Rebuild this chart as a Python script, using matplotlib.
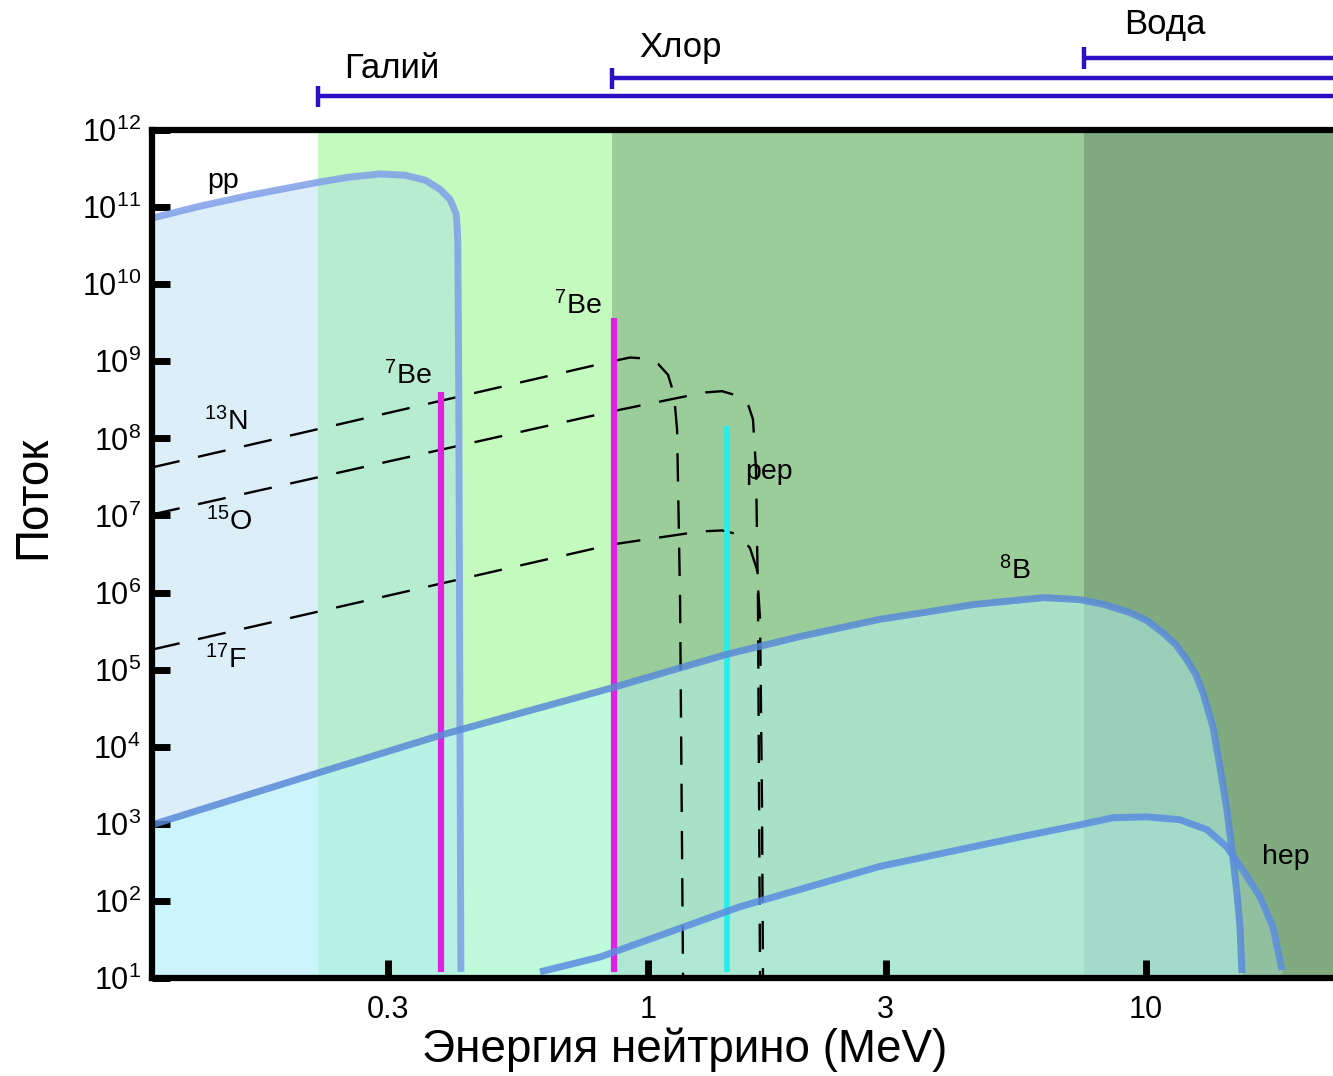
import matplotlib
matplotlib.use('Agg')
import matplotlib.pyplot as plt
import matplotlib.transforms as mtransforms
from matplotlib.ticker import NullLocator

plt.rcParams['font.family'] = ['Liberation Sans', 'DejaVu Sans']
plt.rcParams['mathtext.fontset'] = 'custom'
plt.rcParams['mathtext.rm'] = 'Liberation Sans'
plt.rcParams['mathtext.default'] = 'regular'

# пороги детекторов (MeV)
ga_thr = 0.217
cl_thr = 0.846
water_thr = 7.5

# спектры
pp_E = [0.1009, 0.126, 0.159, 0.217, 0.252, 0.290, 0.325, 0.357, 0.382, 0.400,
        0.406, 0.412, 0.4135, 0.415, 0.417, 0.419, 0.421]
pp_flux = [7.2e10, 1.03e11, 1.43e11, 2.1e11, 2.46e11, 2.7e11, 2.6e11, 2.24e11,
           1.71e11, 1.27e11, 1.03e11, 8.1e10, 6.0e10, 3.8e10, 3.2e8, 4.1e4, 12]

b8_E = [0.1009, 0.2205, 0.386, 0.846, 1.434, 2.02, 2.92, 3.68, 4.51, 6.24, 7.37,
        8.27, 9.29, 10.05, 10.82, 11.49, 12.08, 12.60, 13.02, 13.63, 14.08, 14.54,
        14.89, 15.23, 15.45, 15.59]
b8_flux = [9.7e2, 4.7e3, 1.43e4, 5.8e4, 1.57e5, 2.69e5, 4.5e5, 5.66e5, 7.0e5, 8.6e5,
           8.1e5, 6.98e5, 5.5e5, 4.33e5, 3.0e5, 2.11e5, 1.35e5, 8.6e4, 5.0e4, 1.82e4,
           5.5e3, 1.52e3, 4.6e2, 1.27e2, 46, 11.6]

hep_E = [0.607, 0.801, 1.53, 2.92, 5.61, 7.37, 8.59, 10.05, 11.70, 13.26, 14.54,
         15.66, 16.94, 17.99, 18.76]
hep_flux = [12, 18.7, 84, 2.8e2, 6.8e2, 9.7e2, 1.2e3, 1.23e3, 1.13e3, 8.4e2,
            5.0e2, 2.5e2, 1.13e2, 46, 12.7]

n13_E = [0.1009, 0.846, 0.920, 0.986, 1.047, 1.097, 1.128, 1.144, 1.160, 1.176]
n13_flux = [4.2e7, 1.0e9, 1.12e9, 1.09e9, 9.3e8, 6.7e8, 3.7e8, 1.3e8, 8.1e5, 10]

o15_E = [0.1009, 0.846, 1.160, 1.302, 1.408, 1.509, 1.588, 1.625, 1.648, 1.663, 1.679]
o15_flux = [1.03e7, 2.24e8, 3.4e8, 3.95e8, 4.1e8, 3.6e8, 2.77e8, 1.77e8, 4.0e7,
            8.1e5, 10]

f17_E = [0.1009, 0.846, 1.272, 1.408, 1.516, 1.602, 1.655, 1.679, 1.694, 1.702]
f17_flux = [1.82e5, 4.2e6, 6.2e6, 6.4e6, 5.7e6, 3.8e6, 2.0e6, 4.5e5, 2.0e3, 10]

# линии
be7_E = [0.384, 0.855]
be7_flux = [4.0e8, 3.7e9]
pep_E = 1.441
pep_flux = 1.45e8

fig = plt.figure(figsize=(13.33, 10.76), dpi=100)
ax = fig.add_axes([0.114, 0.0911, 0.886, 0.788])
ax.set_xscale('log')
ax.set_yscale('log')
ax.set_xlim(0.1009, 23.75)
ax.set_ylim(10, 1e12)

# области чувствительности
ax.axvspan(ga_thr, cl_thr, color='#c4fabd', lw=0, zorder=0)
ax.axvspan(cl_thr, water_thr, color='#9bcd9b', lw=0, zorder=0)
ax.axvspan(water_thr, 30, color='#80ab80', lw=0, zorder=0)

# заливки под спектрами
ax.fill_between(pp_E, pp_flux, 10, color='#a5d8f2', alpha=0.39, lw=0, zorder=1)
ax.fill_between(b8_E, b8_flux, 10, color='#b9fbff', alpha=0.45, lw=0, zorder=1)
ax.fill_between(hep_E, hep_flux, 10, color='#c0ffff', alpha=0.25, lw=0, zorder=1)

# CNO пунктиром
for E, F in [(n13_E, n13_flux), (o15_E, o15_flux), (f17_E, f17_flux)]:
    ax.plot(E, F, color='black', lw=1.7, ls=(0, (12, 8)), zorder=2)

# линии 7Be и pep
ax.vlines(be7_E, 12, be7_flux, color='#e020e0', lw=4.5, zorder=3)
ax.vlines(pep_E, 12, pep_flux, color='#22eeee', lw=4, zorder=3)

# непрерывные спектры
ax.plot(pp_E, pp_flux, color='#7f9fe8', lw=5, alpha=0.85, zorder=4,
        solid_capstyle='butt', solid_joinstyle='round')
ax.plot(b8_E, b8_flux, color='#5a8ad8', lw=5, alpha=0.85, zorder=4,
        solid_capstyle='butt', solid_joinstyle='round')
ax.plot(hep_E, hep_flux, color='#5b8de0', lw=5, alpha=0.85, zorder=4,
        solid_capstyle='butt', solid_joinstyle='round')

# подписи
fs = 20.5
ax.text(0.140, 2.2e11, 'pp', fontsize=fs, ha='center', va='center')
ax.text(0.330, 6.6e8, r'$^{7}$Be', fontsize=fs, ha='center', va='center')
ax.text(0.723, 5.3e9, r'$^{7}$Be', fontsize=fs, ha='center', va='center')
ax.text(0.142, 1.66e8, r'$^{13}$N', fontsize=fs, ha='center', va='center')
ax.text(0.144, 8.3e6, r'$^{15}$O', fontsize=fs, ha='center', va='center')
ax.text(0.142, 1.35e5, r'$^{17}$F', fontsize=fs, ha='center', va='center')
ax.text(1.75, 3.7e7, 'pep', fontsize=fs, ha='center', va='center')
ax.text(5.46, 1.93e6, r'$^{8}$B', fontsize=fs, ha='center', va='center')
ax.text(19.1, 3.7e2, 'hep', fontsize=fs, ha='center', va='center')

# полосы экспериментов над графиком
trans = mtransforms.blended_transform_factory(ax.transData, ax.transAxes)
bar_col = '#2c10c4'
for thr, yb in [(ga_thr, 1.040), (cl_thr, 1.061), (water_thr, 1.085)]:
    ax.plot([thr, 40], [yb, yb], color=bar_col, lw=3.2, transform=trans,
            clip_on=False, solid_capstyle='butt')
    ax.plot([thr, thr], [yb - 0.0125, yb + 0.0125], color=bar_col, lw=3.2,
            transform=trans, clip_on=False, solid_capstyle='butt')
ax.text(0.306, 1.073, 'Галий', fontsize=25, ha='center', va='center', transform=trans)
ax.text(1.16, 1.097, 'Хлор', fontsize=25, ha='center', va='center', transform=trans)
ax.text(10.9, 1.124, 'Вода', fontsize=25, ha='center', va='center', transform=trans)

# оси
for s in ['left', 'top', 'bottom']:
    ax.spines[s].set_linewidth(4.5)
    ax.spines[s].set_zorder(6)
ax.spines['right'].set_visible(False)

ax.set_yticks([10.0 ** k for k in range(1, 13)])
ax.set_xticks([0.3, 1, 3, 10])
ax.set_xticklabels(['0.3', '1', '3', '10'])
ax.xaxis.set_minor_locator(NullLocator())
ax.yaxis.set_minor_locator(NullLocator())
ax.tick_params(axis='both', direction='in', length=13, width=5, labelsize=22, pad=8)
ax.tick_params(axis='x', pad=12)

fig.text(33 / 1333, 1 - 497 / 1076, 'Поток', rotation=90, fontsize=33,
         ha='center', va='center')
fig.text(685 / 1333, 1 - 1050 / 1076, 'Энергия нейтрино (MeV)', fontsize=33,
         ha='center', va='center')

fig.savefig('out.png', dpi=100)
